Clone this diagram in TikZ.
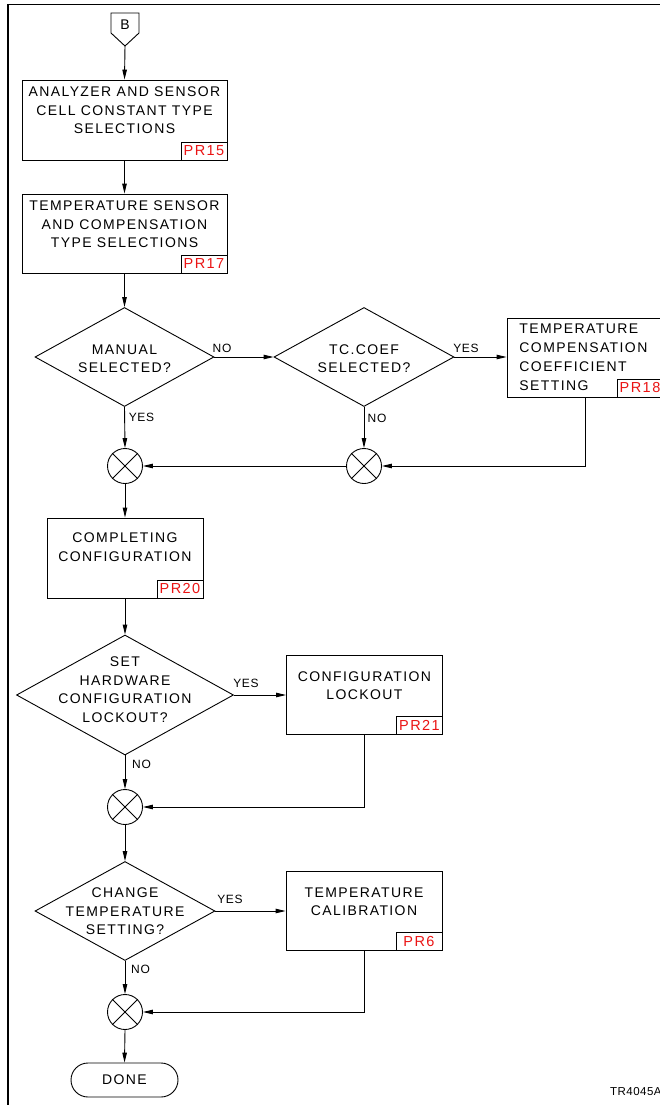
\documentclass[tikz,border=0pt]{standalone}
\usepackage{fontspec}
\setmainfont{Liberation Sans}[LetterSpace=10]
\newfontfamily\lblfont{Liberation Sans}[LetterSpace=6]
\newfontfamily\idfont{Liberation Sans}[LetterSpace=4]
\usetikzlibrary{shapes.geometric,arrows.meta,positioning}
\definecolor{tagred}{RGB}{235,20,20}
\tikzset{
  every path/.style={line width=0.9pt},
  arr/.style={-{Triangle[length=10pt,width=4.5pt]}},
  boxnode/.style={draw, rectangle, inner sep=0pt, minimum width=#1},
  boxnode/.default=156pt,
  txt/.style={font=\fontsize{14}{18.5}\selectfont, align=center, inner sep=0pt},
  txtl/.style={font=\fontsize{14}{19}\selectfont, align=left, inner sep=0pt},
  tag/.style={draw, fill=white, text=tagred, font=\fontsize{14.5}{16}\selectfont,
    minimum width=46pt, minimum height=18pt, inner sep=0pt, anchor=south east},
  dia/.style={draw, diamond, inner sep=0pt},
  junc/.style={draw, circle, minimum size=35pt, inner sep=0pt},
  lbl/.style={font=\lblfont\fontsize{12}{13}\selectfont, inner sep=0pt},
}
\begin{document}
\begin{tikzpicture}[x=1pt,y=-1pt]
\useasboundingbox (0,0) rectangle (660,1105);
% frame
\draw[line width=1.3pt] (8,1105) -- (8,4.5) -- (660,4.5);

% off-page connector B
\draw (111,13) -- (139,13) -- (139,33) -- (125,46) -- (111,33) -- cycle;
\node[txt] (Bt) at (125,25) {B};
\coordinate (Bp) at (125,46);

% box 1
\node[boxnode=205pt, minimum height=80pt] (b1) at (124.5,120) {};
\node[txt] (b1t) at (124.5,110.5) {ANALYZER AND SENSOR\\CELL CONSTANT TYPE\\SELECTIONS};
\node[tag] (t1) at (b1.south east) {PR15};

% box 2
\node[boxnode=205pt, minimum height=79pt] (b2) at (124.5,233.5) {};
\node[txt] (b2t) at (124.5,224.5) {TEMPERATURE SENSOR\\AND COMPENSATION\\TYPE SELECTIONS};
\node[tag] (t2) at (b2.south east) {PR17};

% diamond 1 & 2
\node[dia, minimum width=179pt, minimum height=99pt] (d1) at (124.5,357) {};
\node[txt] (d1t) at (124.5,358.5) {MANUAL\\SELECTED?};
\node[dia, minimum width=180pt, minimum height=99pt] (d2) at (364,357) {};
\node[txt] (d2t) at (364,358.5) {TC.COEF\\SELECTED?};

% box 3
\node[boxnode, minimum height=79pt] (b3) at (585,357.5) {};
\node[txtl, anchor=west] (b3t) at (519,357.5) {TEMPERATURE\\COMPENSATION\\COEFFICIENT\\SETTING};
\node[tag] (t3) at (b3.south east) {PR18};

% junctions 1 & 2
\node[junc] (j1) at (125,466) {};
\draw (j1.north east) -- (j1.south west) (j1.north west) -- (j1.south east);
\node[junc] (j2) at (364,466) {};
\draw (j2.north east) -- (j2.south west) (j2.north west) -- (j2.south east);

% box 4
\node[boxnode, minimum height=80pt] (b4) at (125,558) {};
\node[txt] (b4t) at (125,547) {COMPLETING\\CONFIGURATION};
\node[tag] (t4) at (b4.south east) {PR20};

% diamond 3
\node[dia, minimum width=217pt, minimum height=120pt] (d3) at (125,695) {};
\node[txt] (d3t) at (125,689.5) {SET\\HARDWARE\\CONFIGURATION\\LOCKOUT?};

% box 5
\node[boxnode, minimum height=79pt] (b5) at (364.5,694.5) {};
\node[txt] (b5t) at (364.5,685.5) {CONFIGURATION\\LOCKOUT};
\node[tag] (t5) at (b5.south east) {PR21};

% junction 3
\node[junc] (j3) at (125,807) {};
\draw (j3.north east) -- (j3.south west) (j3.north west) -- (j3.south east);

% diamond 4
\node[dia, minimum width=180pt, minimum height=99pt] (d4) at (125,911) {};
\node[txt] (d4t) at (125,911.5) {CHANGE\\TEMPERATURE\\SETTING?};

% box 6
\node[boxnode, minimum height=79pt] (b6) at (364,910.5) {};
\node[txt] (b6t) at (364,901.5) {TEMPERATURE\\CALIBRATION};
\node[tag] (t6) at (b6.south east) {PR6};

% junction 4
\node[junc] (j4) at (125,1012) {};
\draw (j4.north east) -- (j4.south west) (j4.north west) -- (j4.south east);

% done
\node[draw, rectangle, rounded corners=17pt, minimum width=107pt, minimum height=34pt,
  inner sep=0pt, font=\fontsize{14}{16}\selectfont] (done) at (124.5,1080) {DONE};

% id
\node[font=\idfont\fontsize{11.5}{12}\selectfont, anchor=east, inner sep=0pt] (id) at (662,1092) {TR4045A};

% connectors
\draw[arr] (Bp) -- (b1.north);
\draw[arr] (b1.south) -- (b2.north);
\draw[arr] (b2.south) -- (d1.north);
\draw[arr] (d1.east) -- (d2.west);
\draw[arr] (d2.east) -- (d2.east -| b3.west);
\draw[arr] (d1.south) -- (j1.north);
\draw[arr] (d2.south) -- (j2.north);
\draw[arr] (b3.south) |- (j2.east);
\draw[arr] (j2.west) -- (j1.east);
\draw[arr] (j1.south) -- (b4.north);
\draw[arr] (b4.south) -- (d3.north);
\draw[arr] (d3.east) -- (d3.east -| b5.west);
\draw[arr] (d3.south) -- (j3.north);
\draw[arr] (b5.south) |- (j3.east);
\draw[arr] (j3.south) -- (d4.north);
\draw[arr] (d4.east) -- (d4.east -| b6.west);
\draw[arr] (d4.south) -- (j4.north);
\draw[arr] (b6.south) |- (j4.east);
\draw[arr] (j4.south) -- (done.north);

% labels
\node[lbl] (l1) at (222,348) {NO};
\node[lbl] (l2) at (466,348) {YES};
\node[lbl] (l3) at (141.5,417) {YES};
\node[lbl] (l4) at (377,418) {NO};
\node[lbl] (l5) at (246,683) {YES};
\node[lbl] (l6) at (141.5,764) {NO};
\node[lbl] (l7) at (230,899) {YES};
\node[lbl] (l8) at (140.5,969) {NO};
\end{tikzpicture}
\end{document}
